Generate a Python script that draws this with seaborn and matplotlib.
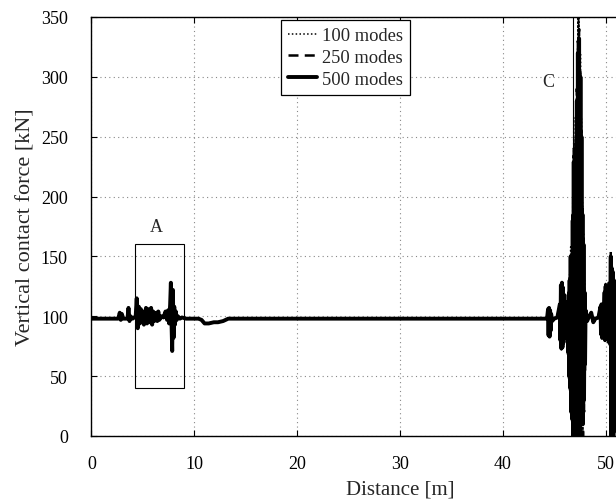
import matplotlib
matplotlib.use("Agg")
import matplotlib.pyplot as plt
from matplotlib.patches import Rectangle
from matplotlib.lines import Line2D
import seaborn as sns
import pandas as pd

# ---------------- data ----------------
distance = [
    0.0, 2.6, 2.75, 2.85, 2.95, 3.1, 3.5, 3.6, 3.7, 3.8, 4.0,
    4.3, 4.4, 4.5, 4.6, 4.7, 4.8, 4.9, 5.0, 5.1, 5.2, 5.3, 5.4, 5.5, 5.6,
    5.7, 5.8, 5.9, 6.0, 6.1, 6.2, 6.3, 6.4, 6.5, 6.6, 6.8, 7.0, 7.2, 7.35,
    7.45, 7.55, 7.65, 7.72, 7.78, 7.85, 7.92, 7.98, 8.05, 8.12, 8.2, 8.3,
    8.4, 8.6, 8.8, 9.2, 10.4, 10.7, 11.0, 11.4, 11.9, 12.3, 12.8, 13.3,
    44.3, 44.4, 44.45, 44.5, 44.55, 44.6, 44.65, 44.7, 44.8, 45.0, 45.3,
    45.55, 45.6, 45.65, 45.7, 45.75, 45.8, 45.85, 45.9, 45.95, 46.0, 46.05,
    46.1, 46.15, 46.2, 46.3, 46.35, 46.4, 46.45, 46.5, 46.55, 46.6, 46.65,
    46.7, 46.75, 46.8, 46.85, 46.9, 46.95, 47.0, 47.05, 47.1, 47.15, 47.2,
    47.25, 47.3, 47.35, 47.42, 47.5, 47.55, 47.6, 47.65, 47.7, 47.75, 47.8,
    47.85, 47.9, 47.95, 48.0, 48.05, 48.2, 48.4, 48.6, 48.8, 49.0, 49.3,
    49.5, 49.55, 49.6, 49.65, 49.7, 49.8, 49.9, 49.95, 50.0, 50.05, 50.1,
    50.15, 50.2, 50.25, 50.3, 50.35, 50.4, 50.45, 50.5, 50.55, 50.6, 50.65,
    50.7, 50.75, 50.8, 50.85, 50.9, 50.95, 51.0, 51.05, 51.1, 51.2, 51.4,
    51.6, 52.0,
]

force_500 = [
    98, 98, 103, 97, 102, 98, 98, 107, 96, 100, 98,
    100, 115, 90, 108, 94, 106, 95, 104, 93, 100, 107, 94, 106, 95,
    103, 107, 93, 104, 96, 100, 103, 96, 104, 97, 100, 99, 104, 97,
    105, 94, 110, 128, 95, 71, 122, 82, 108, 93, 104, 97,
    100, 98, 99, 98, 98, 97, 94, 94, 95, 95, 96, 98,
    98, 106, 84, 107, 83, 105, 88, 102, 96, 98, 99,
    110, 80, 126, 73, 128, 74, 124, 78, 118, 82, 110,
    90, 100, 98, 112, 70, 118, 50, 130, 40, 150, 20,
    112, 14, 180, 0, 229, 0, 200, 0, 240, 0, 280,
    0, 320, 0, 332, 0, 300, 10, 250, 20, 185, 10,
    160, 30, 120, 60, 105, 96, 100, 103, 95, 98, 99,
    108, 85, 110, 82, 104, 92, 120, 80, 125, 85, 118,
    90, 122, 84, 126, 78, 118, 88, 150, 0, 140, 0,
    137, 0, 130, 5, 125, 10, 120, 20, 115, 40, 110,
    60, 100,
]

force_250 = [
    98, 98, 103, 97, 102, 98, 98, 107, 96, 100, 98,
    100, 114, 91, 108, 94, 106, 95, 104, 93, 100, 107, 94, 106, 95,
    103, 107, 93, 104, 96, 100, 103, 96, 104, 97, 100, 99, 104, 97,
    105, 94, 110, 126, 96, 73, 121, 83, 108, 93, 104, 97,
    100, 98, 99, 98, 98, 97, 94, 94, 95, 95, 96, 98,
    98, 106, 84, 107, 83, 105, 88, 102, 96, 98, 99,
    110, 79, 126, 72, 128, 74, 124, 78, 118, 82, 110,
    90, 100, 98, 112, 68, 120, 48, 132, 38, 152, 18,
    115, 12, 185, 0, 240, 0, 210, 0, 250, 0, 290,
    0, 330, 0, 340, 0, 305, 5, 255, 0, 190, 0,
    165, 20, 125, 55, 106, 96, 100, 103, 95, 98, 99,
    109, 84, 111, 81, 104, 92, 121, 78, 127, 82, 120,
    88, 124, 82, 128, 76, 120, 86, 154, 0, 142, 0,
    138, 0, 132, 3, 126, 8, 121, 18, 116, 38, 111,
    58, 100,
]

force_100 = [
    98, 98, 103, 97, 102, 98, 98, 107, 96, 100, 98,
    100, 115, 90, 108, 94, 106, 95, 104, 93, 100, 107, 94, 106, 95,
    103, 107, 93, 104, 96, 100, 103, 96, 104, 97, 100, 99, 104, 97,
    105, 94, 110, 127, 95, 72, 122, 82, 108, 93, 104, 97,
    100, 98, 99, 98, 98, 97, 94, 94, 95, 95, 96, 98,
    98, 106, 84, 107, 83, 105, 88, 102, 96, 98, 99,
    111, 79, 127, 72, 129, 73, 125, 77, 119, 81, 111,
    89, 100, 98, 113, 66, 121, 45, 135, 35, 158, 15,
    120, 10, 200, 0, 266, 0, 230, 0, 270, 0, 310,
    0, 350, 0, 370, 0, 320, 0, 265, 0, 195, 0,
    170, 15, 130, 50, 108, 96, 100, 103, 95, 98, 99,
    109, 84, 111, 81, 104, 92, 121, 78, 127, 82, 120,
    88, 124, 82, 128, 76, 120, 86, 152, 0, 141, 0,
    138, 0, 131, 4, 126, 9, 121, 19, 116, 39, 111,
    59, 100,
]

series_labels = ["100 modes", "250 modes", "500 modes"]
x_ticks = [0, 10, 20, 30, 40, 50, 60]
y_ticks = [0, 50, 100, 150, 200, 250, 300, 350]

# ---------------- style ----------------
sns.set_style("ticks")
plt.rcParams["font.family"] = ["Liberation Serif", "DejaVu Serif"]
plt.rcParams["font.size"] = 13

fig = plt.figure(figsize=(6.16, 5.02), dpi=100)
# axes extends past the right edge of the figure (the reference is cropped)
ax = fig.add_axes([0.1485, 0.1295, 1.0016, 0.8347])

df = pd.DataFrame({
    "Distance": distance * 3,
    "Force": force_100 + force_250 + force_500,
    "Series": [series_labels[0]] * len(distance)
              + [series_labels[1]] * len(distance)
              + [series_labels[2]] * len(distance),
})

styles = {
    "100 modes": dict(ls=(0, (1, 1.5)), lw=1.1),
    "250 modes": dict(ls=(0, (4, 2.5)), lw=1.8),
    "500 modes": dict(ls="-", lw=2.8),
}

for lab in series_labels:
    sub = df[df["Series"] == lab]
    sns.lineplot(data=sub, x="Distance", y="Force", ax=ax, color="black",
                 estimator=None, sort=False, linestyle=styles[lab]["ls"],
                 linewidth=styles[lab]["lw"], legend=False)

ax.set_xlim(0, 60)
ax.set_ylim(0, 350)
ax.set_xticks(x_ticks)
ax.set_yticks(y_ticks)
ax.grid(True, linestyle=(0, (1, 3)), color="#888888", linewidth=0.8)
ax.tick_params(direction="in", length=4, width=0.8, top=True, right=True,
               labelsize=13, colors="black")
ax.tick_params(axis="y", pad=17)
ax.tick_params(axis="x", pad=14)
for s in ax.spines.values():
    s.set_visible(True)
    s.set_linewidth(1.0)
    s.set_color("black")

ax.set_xlabel("Distance [m]", fontsize=15, labelpad=5)
ax.set_ylabel("Vertical contact force [kN]", fontsize=16, labelpad=4)

# annotation boxes
ax.add_patch(Rectangle((4.2, 40), 4.8, 120, fill=False, edgecolor="black",
                       linewidth=0.8, zorder=5))
ax.text(6.3, 175, "A", ha="center", va="center", fontsize=13)
ax.add_patch(Rectangle((46.87, -5), 0.48, 400, fill=False, edgecolor="black",
                       linewidth=0.8, zorder=5))
ax.text(44.4, 296, "C", ha="center", va="center", fontsize=13)

handles = [Line2D([], [], color="black", **styles[l]) for l in series_labels]
leg = ax.legend(handles, series_labels, loc="upper left",
                bbox_to_anchor=(0.307, 0.992), borderaxespad=0,
                frameon=True, fancybox=False, framealpha=1,
                edgecolor="black", handlelength=1.6, handletextpad=0.25,
                labelspacing=0.25, borderpad=0.38, fontsize=13.3)
leg.get_frame().set_linewidth(0.9)

fig.savefig("out.png", dpi=100)
